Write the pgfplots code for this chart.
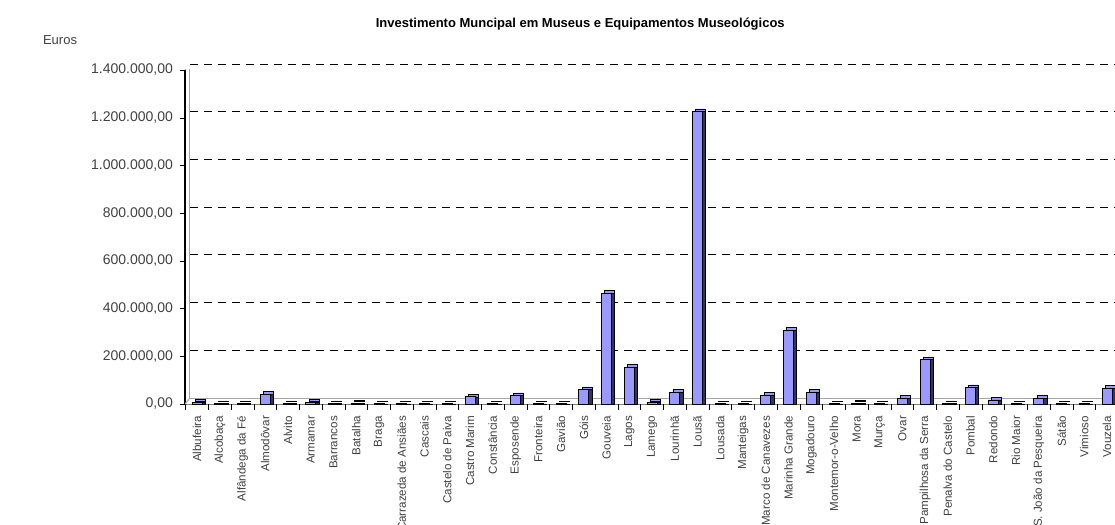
\documentclass[border=0pt]{standalone}
\usepackage{pgfplots}
\usepackage{pgfplotstable}
\pgfplotsset{compat=1.18}
\usepackage{fontspec}
\setmainfont{Liberation Sans}
\definecolor{barfront}{HTML}{9999FF}
\definecolor{barside}{HTML}{333366}
\definecolor{lbl}{HTML}{404040}
\pgfplotstableread{
idx val
0 6000
1 1000
2 1000
3 40000
4 1000
5 8000
6 1000
7 3000
8 500
9 500
10 500
11 500
12 30000
13 500
14 35000
15 500
16 500
17 60000
18 465000
19 153000
20 8000
21 48000
22 1225000
23 500
24 500
25 37000
26 310000
27 50000
28 500
29 3000
30 500
31 25000
32 186000
33 1000
34 68000
35 17000
36 500
37 24000
38 500
39 500
40 67000
}\data
\begin{document}
\begin{tikzpicture}
\useasboundingbox (-92.5pt,-60.5pt) rectangle (465pt,202pt);
\begin{axis}[
  name=ax,
  at={(0,0)}, anchor=south west,
  scale only axis, width=465pt, height=167pt,
  xmin=-0.53, xmax=40.35, ymin=0, ymax=1400000,
  axis x line*=bottom, axis y line*=left, axis line style={-},
  x axis line style={gray},
  y axis line style={black, line width=0.6pt},
  xtick={0,...,40},
  xticklabels={Albufeira,Alcobaça,Alfândega da Fé,Almodôvar,Alvito,Armamar,Barrancos,Batalha,Braga,Carrazeda de Ansiães,Cascais,Castelo de Paiva,Castro Marim,Constância,Esposende,Fronteira,Gavião,Góis,Gouveia,Lagos,Lamego,Lourinhã,Lousã,Lousada,Manteigas,Marco de Canavezes,Marinha Grande,Mogadouro,Montemor-o-Velho,Mora,Murça,Ovar,Pampilhosa da Serra,Penalva do Castelo,Pombal,Redondo,Rio Maior,S. João da Pesqueira,Sátão,Vimioso,Vouzela},
  x tick label style={rotate=90, anchor=east, font=\fontsize{5.8}{7}\selectfont, text=lbl},
  major x tick style={draw=none},
  extra x ticks={-0.5,0.5,...,40.5}, extra x tick labels={},
  extra x tick style={major x tick style={draw=black}, major tick length=3pt},
  ytick={0,200000,400000,600000,800000,1000000,1200000,1400000},
  scaled y ticks=false,
  y tick label style={font=\fontsize{7}{8}\selectfont, text=lbl},
  yticklabel={\pgfmathprintnumber[fixed, fixed zerofill, precision=2, use comma, 1000 sep={.}, assume math mode=true]{\tick}},
  tick align=outside, major tick length=2.5pt,
  tick style={black},
  ymajorgrids, grid style={black, dash pattern=on 4pt off 3pt, xshift=2.5pt, yshift=3pt, line width=0.4pt},
  title={Investimento Muncipal em Museus e Equipamentos Museológicos},
  title style={at={(0.425,1.10)}, anchor=center, font=\bfseries\fontsize{6.5}{8}\selectfont},
  ybar, bar width=5pt,
]
\draw[gray!70, line width=0.5pt] ([xshift=2.5pt,yshift=3pt]rel axis cs:0,0) -- ([xshift=2.5pt,yshift=3pt]rel axis cs:1.1,0);
\draw[gray!70, line width=0.5pt] ([xshift=2.5pt,yshift=3pt]rel axis cs:0,0) -- ([xshift=2.5pt,yshift=3pt]rel axis cs:0,1);
\draw[gray!70, line width=0.5pt] (rel axis cs:0,0) -- ([xshift=2.5pt,yshift=3pt]rel axis cs:0,0);
\draw[gray!70, line width=0.5pt] (rel axis cs:0,1) -- ([xshift=2.5pt,yshift=3pt]rel axis cs:0,1);
\addplot[ybar, bar shift=0pt, fill=barfront, draw=black, line width=0.3pt, transform canvas={xshift=1.6pt,yshift=1.4pt}] table[x=idx,y=val]{\data};
\addplot[ybar, bar shift=0pt, fill=barside, draw=black, line width=0.3pt, transform canvas={xshift=1.6pt}] table[x=idx,y=val]{\data};
\addplot[ybar, bar shift=0pt, fill=barfront, draw=black, line width=0.4pt] table[x=idx,y=val]{\data};
\end{axis}
\node[anchor=west, font=\fontsize{6.5}{7}\selectfont, text=lbl] at ([xshift=-74.5pt,yshift=15pt]ax.north west) {Euros};
\end{tikzpicture}
\end{document}
